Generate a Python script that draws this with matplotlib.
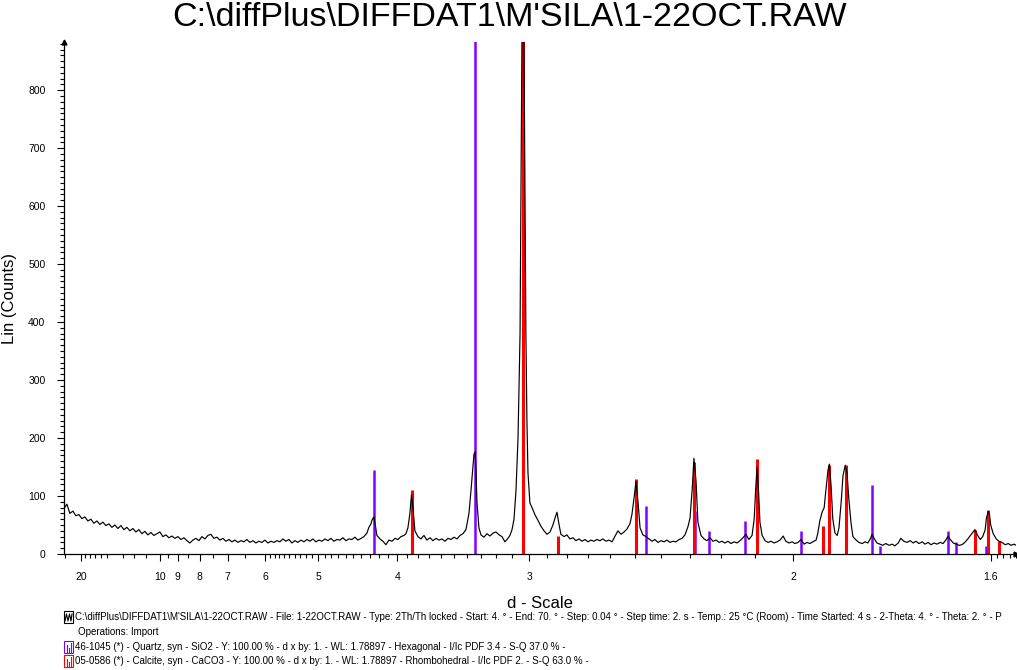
import numpy as np
import matplotlib
matplotlib.use("Agg")
import matplotlib.pyplot as plt
from matplotlib.ticker import FixedLocator, MultipleLocator, NullFormatter
from matplotlib.patches import Rectangle

plt.rcParams['font.family'] = ['Liberation Sans', 'DejaVu Sans']

title = "C:\\diffPlus\\DIFFDAT1\\M'SILA\\1-22OCT.RAW"

scan_d = [25.475, 24.301, 23.231, 22.250, 21.350, 20.519, 19.750, 19.037, 18.374, 17.755,
          17.177, 16.635, 16.126, 15.648, 15.197, 14.771, 14.369, 13.988, 13.626, 13.283,
          12.957, 12.646, 12.350, 12.067, 11.797, 11.539, 11.292, 11.055, 10.828, 10.610,
          10.401, 10.200, 10.006, 9.820, 9.640, 9.467, 9.300, 9.139, 8.983, 8.833,
          8.687, 8.547, 8.410, 8.278, 8.150, 8.026, 7.906, 7.789, 7.676, 7.566,
          7.459, 7.355, 7.254, 7.155, 7.059, 6.966, 6.875, 6.787, 6.701, 6.616,
          6.535, 6.455, 6.377, 6.300, 6.226, 6.153, 6.082, 6.013, 5.945, 5.879,
          5.814, 5.751, 5.689, 5.628, 5.569, 5.510, 5.453, 5.397, 5.343, 5.289,
          5.237, 5.185, 5.135, 5.085, 5.037, 4.989, 4.942, 4.896, 4.851, 4.807,
          4.764, 4.721, 4.679, 4.638, 4.597, 4.558, 4.519, 4.480, 4.443, 4.404,
          4.369, 4.333, 4.310, 4.286, 4.269, 4.252, 4.234, 4.218, 4.184, 4.151,
          4.119, 4.087, 4.055, 4.024, 3.994, 3.964, 3.934, 3.915, 3.896, 3.877,
          3.862, 3.848, 3.830, 3.802, 3.775, 3.748, 3.722, 3.695, 3.670, 3.644,
          3.619, 3.595, 3.570, 3.546, 3.523, 3.499, 3.476, 3.453, 3.431, 3.409,
          3.387, 3.372, 3.358, 3.351, 3.344, 3.337, 3.330, 3.316, 3.302, 3.282,
          3.261, 3.241, 3.221, 3.202, 3.182, 3.163, 3.145, 3.126, 3.114, 3.101,
          3.089, 3.077, 3.065, 3.053, 3.045, 3.036, 3.027, 3.019, 3.013, 3.007,
          2.996, 2.984, 2.968, 2.951, 2.935, 2.918, 2.902, 2.886, 2.871, 2.860,
          2.850, 2.840, 2.830, 2.814, 2.800, 2.785, 2.770, 2.756, 2.741, 2.727,
          2.713, 2.699, 2.686, 2.672, 2.659, 2.645, 2.632, 2.619, 2.606, 2.593,
          2.581, 2.568, 2.555, 2.543, 2.531, 2.519, 2.511, 2.503, 2.495, 2.487,
          2.479, 2.468, 2.456, 2.445, 2.433, 2.423, 2.411, 2.400, 2.389, 2.379,
          2.368, 2.357, 2.347, 2.336, 2.326, 2.316, 2.306, 2.299, 2.292, 2.286,
          2.279, 2.273, 2.263, 2.253, 2.244, 2.234, 2.225, 2.215, 2.206, 2.197,
          2.188, 2.179, 2.170, 2.161, 2.152, 2.143, 2.135, 2.126, 2.118, 2.109,
          2.103, 2.099, 2.095, 2.091, 2.087, 2.081, 2.073, 2.065, 2.057, 2.049,
          2.041, 2.033, 2.025, 2.018, 2.010, 2.002, 1.995, 1.987, 1.980, 1.972,
          1.965, 1.958, 1.951, 1.943, 1.939, 1.934, 1.929, 1.924, 1.920, 1.915,
          1.912, 1.908, 1.904, 1.899, 1.894, 1.890, 1.885, 1.881, 1.876, 1.872,
          1.868, 1.863, 1.859, 1.852, 1.846, 1.839, 1.833, 1.827, 1.822, 1.818,
          1.814, 1.808, 1.802, 1.796, 1.790, 1.783, 1.777, 1.772, 1.765, 1.760,
          1.754, 1.748, 1.742, 1.736, 1.731, 1.725, 1.719, 1.714, 1.708, 1.703,
          1.697, 1.692, 1.686, 1.681, 1.676, 1.672, 1.669, 1.663, 1.658, 1.653,
          1.648, 1.643, 1.638, 1.632, 1.629, 1.626, 1.622, 1.617, 1.613, 1.609,
          1.607, 1.604, 1.602, 1.600, 1.596, 1.591, 1.587, 1.582, 1.577, 1.572,
          1.568, 1.563, 1.560]
scan_counts = [78, 86, 70, 74, 66, 68, 61, 64, 57, 60,
               53, 57, 51, 55, 49, 52, 46, 50, 44, 49,
               42, 46, 40, 44, 38, 42, 35, 39, 33, 37,
               32, 35, 38, 30, 33, 28, 31, 27, 30, 25,
               28, 23, 19, 24, 27, 23, 30, 26, 32, 34,
               27, 29, 24, 27, 22, 25, 21, 24, 20, 23,
               21, 25, 20, 23, 19, 22, 20, 24, 19, 22,
               20, 23, 21, 26, 22, 25, 19, 23, 20, 24,
               21, 25, 22, 26, 21, 24, 22, 26, 23, 27,
               22, 25, 24, 28, 23, 26, 25, 29, 24, 27,
               30, 36, 46, 52, 60, 64, 48, 32, 26, 22,
               16, 24, 22, 27, 25, 30, 32, 35, 45, 70,
               102, 80, 40, 30, 26, 32, 24, 28, 23, 27,
               24, 26, 22, 27, 25, 29, 26, 32, 35, 42,
               70, 110, 150, 172, 176, 150, 90, 45, 33, 29,
               35, 31, 36, 38, 33, 30, 21, 27, 32, 42,
               60, 110, 200, 380, 750, 1150, 750, 380, 230, 140,
               88, 80, 68, 58, 48, 40, 34, 38, 50, 62,
               72, 52, 34, 30, 33, 26, 28, 23, 26, 22,
               25, 21, 24, 22, 25, 23, 26, 22, 24, 21,
               30, 40, 34, 38, 43, 52, 68, 95, 125, 90,
               45, 33, 30, 26, 22, 25, 20, 23, 21, 24,
               20, 22, 21, 25, 27, 33, 47, 62, 110, 165,
               125, 55, 32, 26, 23, 28, 22, 24, 20, 22,
               19, 22, 18, 21, 19, 23, 28, 34, 25, 32,
               60, 110, 150, 110, 55, 32, 23, 20, 22, 19,
               21, 24, 31, 22, 19, 21, 18, 20, 25, 17,
               20, 18, 21, 24, 36, 58, 72, 80, 110, 145,
               155, 118, 60, 36, 32, 45, 90, 135, 153, 140,
               95, 52, 30, 24, 20, 18, 21, 19, 26, 34,
               27, 19, 17, 15, 18, 15, 17, 14, 19, 27,
               22, 20, 23, 19, 22, 18, 21, 17, 20, 16,
               19, 17, 20, 18, 24, 31, 26, 19, 17, 15,
               16, 20, 26, 34, 38, 42, 33, 25, 30, 42,
               62, 73, 68, 50, 35, 26, 22, 20, 16, 18,
               15, 17, 15]

# reference patterns (stick lines)
quartz_d = [4.255, 3.343, 2.457, 2.282, 2.236, 2.128, 1.980, 1.818, 1.802, 1.672, 1.659, 1.608]
quartz_h = [145, 930, 83, 75, 40, 57, 40, 119, 14, 40, 21, 14]
calcite_d = [3.86, 3.035, 2.845, 2.495, 2.285, 2.095, 1.927, 1.913, 1.875, 1.626, 1.604, 1.587]
calcite_h = [110, 930, 31, 129, 158, 163, 48, 154, 154, 41, 76, 22]

major_d = [20, 10, 9, 8, 7, 6, 5, 4, 3, 2, 1.6]
major_labels = ["20", "10", "9", "8", "7", "6", "5", "4", "3", "2", "1.6"]
minor_d = [25, 19, 18, 17, 16, 15, 13, 12, 11, 9.5, 8.5, 7.5, 6.5,
           5.9, 5.8, 5.7, 5.6, 5.5, 5.4, 5.3, 5.2, 5.1,
           4.9, 4.8, 4.7, 4.6, 4.5, 4.4, 4.3, 4.2, 4.1,
           3.9, 3.8, 3.7, 3.6, 3.5, 3.4, 3.3, 3.2, 3.1,
           2.9, 2.8, 2.7, 2.6, 2.5, 2.4, 2.3, 2.2, 2.1,
           1.59, 1.58, 1.57, 1.56]

legend_lines = [
    "C:\\diffPlus\\DIFFDAT1\\M'SILA\\1-22OCT.RAW - File: 1-22OCT.RAW - Type: 2Th/Th locked - Start: 4. \u00b0 - End: 70. \u00b0 - Step: 0.04 \u00b0 - Step time: 2. s - Temp.: 25 \u00b0C (Room) - Time Started: 4 s - 2-Theta: 4. \u00b0 - Theta: 2. \u00b0 - P",
    "Operations: Import",
    "46-1045 (*) - Quartz, syn - SiO2 - Y: 100.00 % - d x by: 1. - WL: 1.78897 - Hexagonal - I/Ic PDF 3.4 - S-Q 37.0 % -",
    "05-0586 (*) - Calcite, syn - CaCO3 - Y: 100.00 % - d x by: 1. - WL: 1.78897 - Rhombohedral - I/Ic PDF 2. - S-Q 63.0 % -",
]
legend_colors = ["black", None, "#8000ff", "red"]


def inv(x):
    x = np.asarray(x, dtype=float)
    with np.errstate(divide='ignore', invalid='ignore'):
        return 1.0 / x


W, H = 1017, 670
fig = plt.figure(figsize=(W / 100, H / 100), dpi=100)
ax = fig.add_axes([63.5 / W, 1 - 554 / H, (1016.4 - 63.5) / W, (554 - 42) / H])

# d axis, linear in 1/d
ax.set_xscale('function', functions=(inv, inv))
ax.set_xlim(1.5595, 25.63)
ax.set_ylim(0, 883)

ax.vlines(quartz_d, 0, quartz_h, colors="#8000ff", linewidth=1.8, zorder=2)
ax.vlines(calcite_d, 0, calcite_h, colors="red", linewidth=2.2, zorder=2)
ax.plot(scan_d, scan_counts, color="black", linewidth=0.85, zorder=3)

ax.xaxis.set_major_locator(FixedLocator(major_d))
ax.xaxis.set_minor_locator(FixedLocator(minor_d))
ax.set_xticklabels(major_labels)
ax.xaxis.set_minor_formatter(NullFormatter())
ax.yaxis.set_major_locator(MultipleLocator(100))
ax.yaxis.set_minor_locator(MultipleLocator(10))

ax.tick_params(axis='both', which='major', length=5, width=0.8, labelsize=7.5, direction='out')
ax.tick_params(axis='both', which='minor', length=3, width=0.8, direction='out')
ax.tick_params(axis='x', which='major', pad=8)
ax.tick_params(axis='y', which='major', pad=8)

for s in ['top', 'right']:
    ax.spines[s].set_visible(False)
for s in ['left', 'bottom']:
    ax.spines[s].set_linewidth(0.9)

ax.plot(0, 1, marker='^', color='black', ms=3.5, transform=ax.transAxes, clip_on=False)
ax.plot(1, 0, marker='>', color='black', ms=3.5, transform=ax.transAxes, clip_on=False)

ax.set_xlabel("d - Scale", fontsize=12, labelpad=10)
ax.set_ylabel("Lin (Counts)", fontsize=12)
ax.yaxis.set_label_coords((17 - 63.5) / (1016.4 - 63.5), 0.5)

fig.text(510 / W, 1 - 18 / H, title, fontsize=24.5, ha='center', va='center')


def fx(px):
    return px / W


def fy(py):
    return 1 - py / H


# legend block under the plot
legend_y = [617, 632, 647, 661]
legend_x = [75, 78, 75, 75]
for i, (txt, col, ly, lx) in enumerate(zip(legend_lines, legend_colors, legend_y, legend_x)):
    fig.text(fx(lx), fy(ly), txt, fontsize=7,
             family=['Liberation Sans Narrow', 'Liberation Sans', 'DejaVu Sans'],
             ha='left', va='center')
    if col is None:
        continue
    fig.patches.append(Rectangle((fx(64), fy(ly + 6)), 9 / W, 12 / H,
                                 transform=fig.transFigure, fill=False,
                                 edgecolor=col, linewidth=0.8))
    if i == 0:
        # small scan symbol
        fig.lines.append(plt.Line2D([fx(65), fx(66.5), fx(68), fx(69.5), fx(71), fx(72)],
                                    [fy(ly + 4), fy(ly - 3), fy(ly + 4), fy(ly - 3), fy(ly + 4), fy(ly - 3)],
                                    transform=fig.transFigure, color=col, linewidth=0.8))
    else:
        for k, hh in zip([66.5, 68.5, 70.5], [7, 4, 9]):
            fig.lines.append(plt.Line2D([fx(k), fx(k)], [fy(ly + 5), fy(ly + 5 - hh)],
                                        transform=fig.transFigure, color=col, linewidth=0.8))

fig.savefig("out.png", dpi=100)
